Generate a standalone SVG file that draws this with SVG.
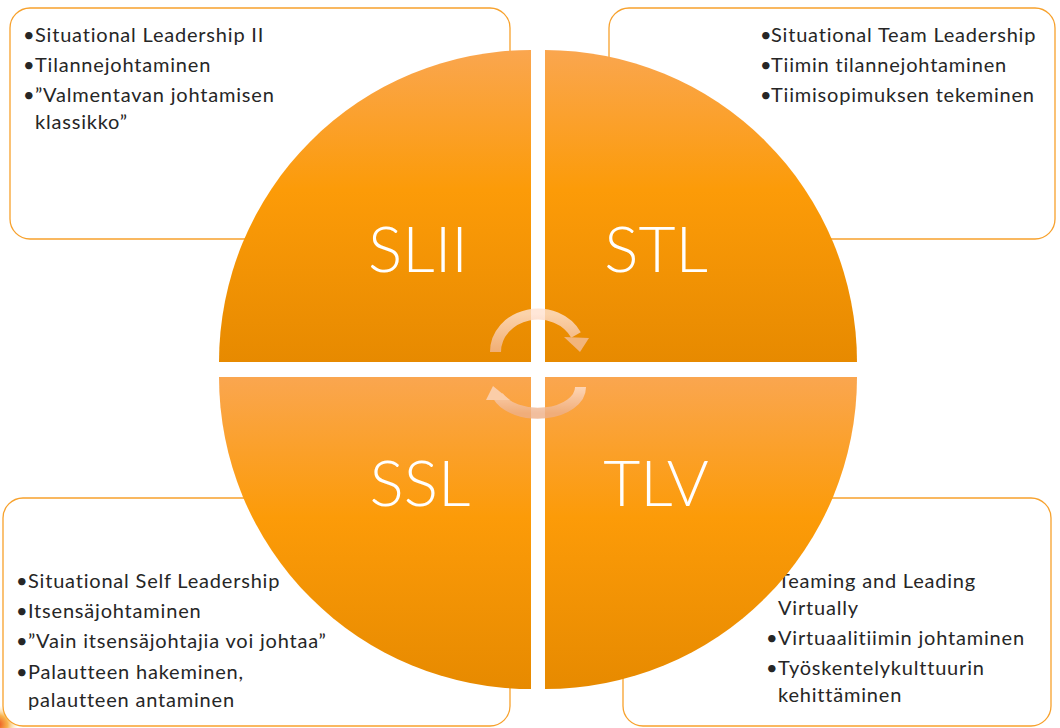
<svg xmlns="http://www.w3.org/2000/svg" width="1060" height="728" viewBox="0 0 1060 728">
<style>
.box{fill:#fff;stroke:#F7A12C;stroke-width:1.3}
.t{font-family:Lato,"Liberation Sans",sans-serif;font-size:20px;letter-spacing:0.8px;fill:#262626}
.big{font-family:Lato,"Liberation Sans",sans-serif;font-weight:300;font-size:64px;fill:#fff;text-anchor:middle}
</style>
<defs>
<linearGradient id="gq" x1="0" y1="0" x2="0" y2="1">
<stop offset="0" stop-color="#FAA64F"/>
<stop offset="0.45" stop-color="#FC9B08"/>
<stop offset="1" stop-color="#E78A00"/>
</linearGradient>
<linearGradient id="ga1" x1="0" y1="0" x2="0" y2="1">
<stop offset="0" stop-color="#FFE2D0"/>
<stop offset="1" stop-color="#F2B68E"/>
</linearGradient>
<linearGradient id="ga2" x1="0" y1="0" x2="0" y2="1">
<stop offset="0" stop-color="#FFE0CC"/>
<stop offset="1" stop-color="#EEB088"/>
</linearGradient>
<radialGradient id="blob" cx="0.3" cy="0.7" r="0.6">
<stop offset="0" stop-color="#E8401C"/>
<stop offset="0.5" stop-color="#F7A020" stop-opacity="0.8"/>
<stop offset="1" stop-color="#FCE7B0" stop-opacity="0"/>
</radialGradient>
</defs>
<rect width="1060" height="728" fill="#fff"/>
<ellipse cx="4" cy="718" rx="18" ry="16" fill="url(#blob)"/>

<g id="box-slii">
<rect class="box" x="10" y="8" width="500" height="231" rx="20"/>
<text class="t" x="23" y="41.5">•</text><text class="t" x="35" y="41.5">Situational Leadership II</text>
<text class="t" x="23" y="71.5">•</text><text class="t" x="35" y="71.5">Tilannejohtaminen</text>
<text class="t" x="23" y="101.5">•</text><text class="t" x="35" y="101.5">”Valmentavan johtamisen</text>
<text class="t" x="35" y="129">klassikko”</text>
</g>
<g id="box-stl">
<rect class="box" x="609" y="8" width="446" height="231" rx="20"/>
<text class="t" x="760" y="41.5">•</text><text class="t" x="771" y="41.5">Situational Team Leadership</text>
<text class="t" x="760" y="71.5">•</text><text class="t" x="771" y="71.5">Tiimin tilannejohtaminen</text>
<text class="t" x="760" y="101.5">•</text><text class="t" x="771" y="101.5">Tiimisopimuksen tekeminen</text>
</g>
<g id="box-ssl">
<rect class="box" x="3" y="498" width="507" height="228" rx="20"/>
<text class="t" x="16" y="588">•</text><text class="t" x="28" y="588">Situational Self Leadership</text>
<text class="t" x="16" y="618">•</text><text class="t" x="28" y="618">Itsensäjohtaminen</text>
<text class="t" x="16" y="648">•</text><text class="t" x="28" y="648">”Vain itsensäjohtajia voi johtaa”</text>
<text class="t" x="16" y="679">•</text><text class="t" x="28" y="679">Palautteen hakeminen,</text>
<text class="t" x="28" y="706.5">palautteen antaminen</text>
</g>
<g id="box-tlv">
<rect class="box" x="623" y="498" width="428" height="228" rx="20"/>
<text class="t" x="778" y="588">Teaming and Leading</text>
<text class="t" x="778" y="615">Virtually</text>
<text class="t" x="766" y="645">•</text><text class="t" x="778" y="645">Virtuaalitiimin johtaminen</text>
<text class="t" x="766" y="675">•</text><text class="t" x="778" y="675">Työskentelykulttuurin</text>
<text class="t" x="778" y="702">kehittäminen</text>
</g>

<g id="q-slii">
<path d="M531 362 L219 362 A312 312 0 0 1 531 50 Z" fill="url(#gq)"/>
<text class="big" x="418" y="272">SLII</text>
</g>
<g id="q-stl">
<path d="M545 362 L545 50 A312 312 0 0 1 857 362 Z" fill="url(#gq)"/>
<text class="big" x="656" y="272">STL</text>
</g>
<g id="q-ssl">
<path d="M531 377 L531 689 A312 312 0 0 1 219 377 Z" fill="url(#gq)"/>
<text class="big" x="420" y="506">SSL</text>
</g>
<g id="q-tlv">
<path d="M545 377 L857 377 A312 312 0 0 1 545 689 Z" fill="url(#gq)"/>
<text class="big" x="656" y="506">TLV</text>
</g>

<g id="connectors">
<g opacity="0.82">
<path d="M495.5 352 A42.5 38 0 0 1 576 335" fill="none" stroke="url(#ga1)" stroke-width="11"/>
<polygon points="564,337 589,338 580,352" fill="#F4BE98"/>
</g>
<g opacity="0.82">
<path d="M580.5 387 A42.5 26 0 0 1 498 396" fill="none" stroke="url(#ga2)" stroke-width="11"/>
<polygon points="486,400 510,400 493,386" fill="#FCD6BE"/>
</g>
</g>
</svg>
